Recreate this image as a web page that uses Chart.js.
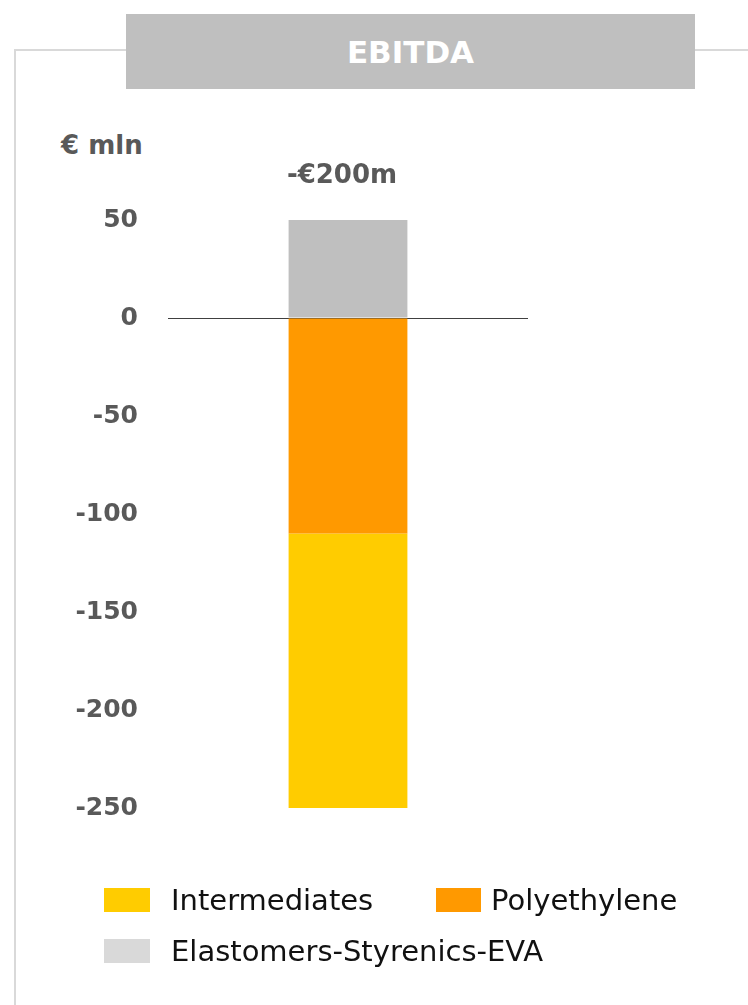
<!DOCTYPE html>
<html>
<head>
<meta charset="utf-8">
<script src="https://cdn.jsdelivr.net/npm/chart.js@4/dist/chart.umd.min.js"></script>
<style>
  html, body { margin: 0; padding: 0; background: #ffffff; }
  body { width: 748px; height: 1005px; position: relative; overflow: hidden;
         font-family: "DejaVu Sans", Verdana, sans-serif; }
  .frame { position: absolute; left: 14px; top: 49px; width: 760px; height: 1000px;
           border-top: 2px solid #d9d9d9; border-left: 2px solid #d9d9d9; box-sizing: border-box; }
  .header { position: absolute; left: 126px; top: 14px; width: 569px; height: 75px;
            background: #bfbfbf; color: #ffffff; font-weight: bold; font-size: 31px;
            display: flex; align-items: center; justify-content: center; z-index: 2; }
  .unit { position: absolute; left: 61px; top: 130px; font-size: 26px; font-weight: bold;
          color: #595959; line-height: 30px; }
  #chartBox { position: absolute; left: 0; top: 0; width: 748px; height: 1005px; z-index: 1; }
  .legend { position: absolute; left: 104px; top: 888px; display: grid;
            grid-template-columns: 332px auto; row-gap: 27px; z-index: 3; }
  .item { display: flex; align-items: center; height: 24px; white-space: nowrap; }
  .item.wide { grid-column: 1 / span 2; }
  .swatch { width: 46px; height: 24px; margin-right: 21px; flex: none; }
  .item.tight .swatch { width: 45px; margin-right: 10px; }
  .item span { font-size: 29px; color: #111111; line-height: 24px; }
</style>
</head>
<body>
<div class="frame"></div>
<div class="header" id="header"></div>
<div class="unit">€ mln</div>
<div id="chartBox"><canvas id="chart" width="748" height="1005"></canvas></div>
<div class="legend" id="legend"></div>

<script>
// Segment values in € mln for the single EBITDA bar
const categories = ['EBITDA'];
const polyethylene = [-110];
const intermediates = [-140];
const elastomers = [50];

// Axis tick labels
const yTicks = [50, 0, -50, -100, -150, -200, -250];

const seriesNames = {
  intermediates: 'Intermediates',
  polyethylene: 'Polyethylene',
  elastomers: 'Elastomers-Styrenics-EVA'
};
const colors = {
  intermediates: '#ffcc00',
  polyethylene: '#ff9900',
  elastomers: '#bfbfbf',
  elastomersKey: '#d9d9d9'
};

document.getElementById('header').textContent = categories[0];

// Legend entries in display order
const legendEntries = [
  { name: seriesNames.intermediates, color: colors.intermediates, cls: '' },
  { name: seriesNames.polyethylene, color: colors.polyethylene, cls: ' tight' },
  { name: seriesNames.elastomers, color: colors.elastomersKey, cls: ' wide' }
];
const legendEl = document.getElementById('legend');
legendEntries.forEach(e => {
  const item = document.createElement('div');
  item.className = 'item' + e.cls;
  const sw = document.createElement('div');
  sw.className = 'swatch';
  sw.style.background = e.color;
  const label = document.createElement('span');
  label.textContent = e.name;
  item.appendChild(sw);
  item.appendChild(label);
  legendEl.appendChild(item);
});

// Net total printed above the stacked bar
const totalLabel = {
  id: 'totalLabel',
  afterDatasetsDraw(chart) {
    const { ctx, scales: { y } } = chart;
    const meta = chart.getDatasetMeta(0);
    categories.forEach((c, i) => {
      let total = 0, positive = 0;
      chart.data.datasets.forEach(ds => {
        const v = ds.data[i];
        total += v;
        if (v > 0) positive += v;
      });
      const x = meta.data[i].x - 6;
      const yTop = y.getPixelForValue(positive);
      const text = (total < 0 ? '-' : '') + '€' + Math.abs(total) + 'm';
      ctx.save();
      ctx.font = 'bold 26px "DejaVu Sans", Verdana, sans-serif';
      ctx.fillStyle = '#595959';
      ctx.textAlign = 'center';
      ctx.textBaseline = 'alphabetic';
      ctx.fillText(text, x, yTop - 37);
      ctx.restore();
    });
  }
};

new Chart(document.getElementById('chart'), {
  type: 'bar',
  data: {
    labels: categories,
    datasets: [
      { label: seriesNames.polyethylene, data: polyethylene, backgroundColor: colors.polyethylene },
      { label: seriesNames.intermediates, data: intermediates, backgroundColor: colors.intermediates },
      { label: seriesNames.elastomers, data: elastomers, backgroundColor: colors.elastomers }
    ]
  },
  options: {
    responsive: false,
    animation: false,
    devicePixelRatio: 1,
    layout: { padding: { left: 0, right: 220, top: 220, bottom: 197 } },
    datasets: { bar: { barPercentage: 1, categoryPercentage: 0.33, borderWidth: 0 } },
    plugins: { legend: { display: false }, tooltip: { enabled: false } },
    scales: {
      x: { stacked: true, display: false },
      y: {
        stacked: true,
        min: yTicks[yTicks.length - 1],
        max: yTicks[0],
        z: 1,
        afterFit(scale) { scale.width = 168; },
        afterBuildTicks(scale) { scale.ticks = yTicks.map(v => ({ value: v })); },
        border: { display: false },
        grid: {
          drawTicks: false,
          lineWidth: 1,
          color: ctx => (ctx.tick && ctx.tick.value === 0) ? '#404040' : 'rgba(0,0,0,0)'
        },
        ticks: {
          padding: 30,
          color: '#595959',
          font: { family: '"DejaVu Sans", Verdana, sans-serif', size: 25, weight: 'bold' },
          callback: v => String(v)
        }
      }
    }
  },
  plugins: [totalLabel]
});
</script>
</body>
</html>
